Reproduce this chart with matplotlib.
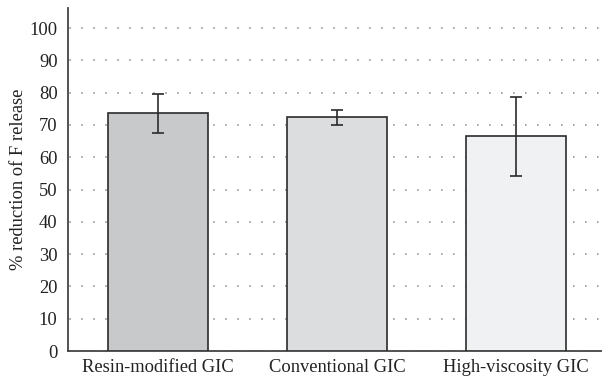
import matplotlib.pyplot as plt
import numpy as np

categories = ['Resin-modified GIC', 'Conventional GIC', 'High-viscosity GIC']
means = [73.6, 72.3, 66.5]
errors = [6.0, 2.3, 12.2]
colors = ['#c8c9cb', '#dcdddf', '#f0f1f3']

plt.rcParams['font.family'] = ['Liberation Serif', 'DejaVu Serif']

fig = plt.figure(figsize=(6.02, 3.8), dpi=100)
ax = fig.add_axes([68 / 602, 29 / 380, 538 / 602, 343 / 380])

x = np.arange(len(categories))
ax.bar(x, means, width=0.557, color=colors, edgecolor='#2b2b2b', linewidth=1.2, zorder=3)
ax.errorbar(x, means, yerr=errors, fmt='none', ecolor='#2b2b2b', elinewidth=1.2,
            capsize=4.5, capthick=1.2, zorder=4)

ax.set_xlim(-0.5, 2.5)
ax.set_ylim(0, 106.2)
ax.set_yticks(range(0, 101, 10))
ax.set_xticks(x)
ax.set_xticklabels(categories)
ax.tick_params(axis='both', length=0, labelsize=13.3, colors='#222222')
ax.tick_params(axis='x', pad=6)
ax.tick_params(axis='y', pad=7.5)

ax.yaxis.grid(True, linestyle=(7, (1, 6.85)), color='#888888', linewidth=1.1, zorder=0)
ax.set_axisbelow(True)

for s in ['top', 'right']:
    ax.spines[s].set_visible(False)
for s in ['left', 'bottom']:
    ax.spines[s].set_color('#444444')
    ax.spines[s].set_linewidth(1.3)

ax.set_ylabel('% reduction of F release', fontsize=13.3, color='#222222', labelpad=2)

fig.savefig('out.png', dpi=100)
